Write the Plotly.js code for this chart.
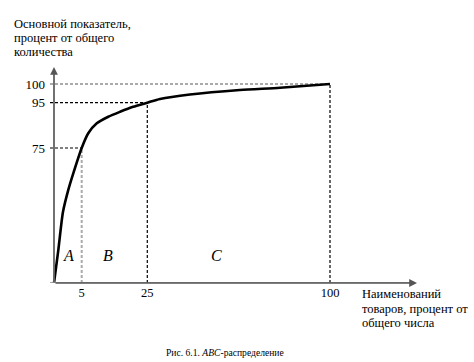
<!DOCTYPE html>
<html><head><meta charset="utf-8">
<script src="https://cdn.plot.ly/plotly-3.0.1.min.js"></script>
<style>html,body{margin:0;padding:0;background:#fff}#c{width:474px;height:362px}</style>
</head><body><div id="c"></div>
<script>
const shareItems = [0, 0.78, 1.62, 2.58, 3.48, 5, 7.0, 9.6, 13.1, 16.7, 20.7, 25, 30.2, 42.5, 63, 79.5, 100];
const shareValue = [0, 18.3, 39.4, 51.7, 60.9, 75, 81.5, 85.9, 88.8, 91.0, 93.2, 95, 96.0, 97.2, 98.4, 99.0, 100];
const xTickValues = [5, 25, 100];
const yTickValues = [75, 95, 100];
const xTickLabels = ['5', '25', '100'];
const yTickLabels = ['75', '95', '100'];
const groupLabels = ['A', 'B', 'C'];
const yTitleLines = ['Основной показатель,', 'процент от общего', 'количества'];
const xTitleLines = ['Наименований', 'товаров, процент от', 'общего числа'];
const captionText = 'Рис. 6.1. <i>ABC</i>-распределение';

// Schematic (non-uniform) axis scale: knots of real value -> display position
const xKnotsReal = [0, 5, 25, 100], xKnotsPos = [0, 27.7, 93.3, 276];
const yKnotsReal = [0, 75, 95, 100], yKnotsPos = [0, 135, 180.3, 199];
function warp(v, kr, kp) {
  for (let i = 1; i < kr.length; i++) {
    if (v <= kr[i]) return kp[i-1] + (v - kr[i-1]) / (kr[i] - kr[i-1]) * (kp[i] - kp[i-1]);
  }
  return kp[kp.length-1];
}
const wx = v => warp(v, xKnotsReal, xKnotsPos);
const wy = v => warp(v, yKnotsReal, yKnotsPos);

const FONT = 'Liberation Serif, Times New Roman, serif';
const xMax = 363, yMax = 216;
const L = 50, T = 67, W = 367, H = yMax;
const px = p => (p - L) / W;          // figure pixel -> paper x
const py = p => (T + H - p) / H;      // figure pixel -> paper y

const trace = {
  x: shareItems.map(wx), y: shareValue.map(wy),
  mode: 'lines', line: {color: '#000', width: 2.6, shape: 'spline', smoothing: 0.7},
  hoverinfo: 'skip', cliponaxis: false
};

function dash(x0, y0, x1, y1, color) {
  return {type: 'line', xref: 'x', yref: 'y', x0, y0, x1, y1, layer: 'below',
    line: {color, width: color === '#000' ? 1.2 : 2, dash: '3px,2px'}};
}
const shapes = [
  dash(-4, wy(100), wx(100), wy(100), '#aaa'),
  dash(-4, wy(95), wx(25), wy(95), '#000'),
  dash(-4, wy(75), wx(5), wy(75), '#000'),
  dash(wx(5), 0, wx(5), wy(75), '#aaa'),
  dash(wx(25), 0, wx(25), wy(95), '#000'),
  dash(wx(100), 0, wx(100), wy(100), '#000'),
  {type: 'line', xref: 'x', yref: 'y', x0: -4, y0: 0, x1: xMax - 4, y1: 0, line: {color: '#888', width: 1.5}},
  {type: 'line', xref: 'x', yref: 'y', x0: 0, y0: 0, x1: 0, y1: yMax - 4, line: {color: '#888', width: 1.5}}
];

const annotations = [
  {x: xMax, y: 0, ax: 0, ay: 0, axref: 'x', ayref: 'y', xref: 'x', yref: 'y', text: '', showarrow: true,
   arrowhead: 2, arrowsize: 1.2, arrowwidth: 1.3, arrowcolor: '#555', standoff: 0},
  {x: 0, y: yMax, ax: 0, ay: 0, axref: 'x', ayref: 'y', xref: 'x', yref: 'y', text: '', showarrow: true,
   arrowhead: 2, arrowsize: 1.2, arrowwidth: 1.3, arrowcolor: '#555', standoff: 0},
  {xref: 'paper', yref: 'paper', x: px(225), y: py(352), xanchor: 'center', yanchor: 'middle',
   showarrow: false, text: captionText, font: {family: FONT, size: 9.6, color: '#000'}}
];
yTitleLines.forEach((t, i) => annotations.push({xref: 'paper', yref: 'paper', x: px(12), y: py(24 + 14 * i),
  xanchor: 'left', yanchor: 'middle', showarrow: false, text: t, font: {family: FONT, size: 12.5, color: '#000'}}));
xTitleLines.forEach((t, i) => annotations.push({xref: 'paper', yref: 'paper', x: px(360), y: py(294 + 14.5 * i),
  xanchor: 'left', yanchor: 'middle', showarrow: false, text: t, font: {family: FONT, size: 12.5, color: '#000'}}));
const groupPos = [68, 108, 216];
groupLabels.forEach((g, i) => annotations.push({xref: 'paper', yref: 'paper', x: px(groupPos[i]), y: py(255),
  xanchor: 'center', yanchor: 'middle',
  showarrow: false, text: '<i>' + g + '</i>', font: {family: FONT, size: 16, color: '#000'}}));

const layout = {
  width: 474, height: 362,
  margin: {l: L, r: 474 - L - W, t: T, b: 362 - T - H},
  paper_bgcolor: '#fff', plot_bgcolor: '#fff',
  showlegend: false,
  xaxis: {range: [-4, xMax], showgrid: false, zeroline: false, showline: false,
    tickvals: xTickValues.map(wx), ticktext: xTickLabels, ticks: '', ticklen: 0,
    tickfont: {family: FONT, size: 12.5, color: '#000'}, fixedrange: true},
  yaxis: {range: [0, yMax], showgrid: false, zeroline: false, showline: false,
    tickvals: yTickValues.map(wy), ticktext: yTickLabels, ticks: '', ticklen: 0, ticklabelstandoff: 4,
    tickfont: {family: FONT, size: 13, color: '#000'}, fixedrange: true},
  shapes,
  annotations
};
Plotly.newPlot('c', [trace], layout, {displayModeBar: false, staticPlot: true});
</script></body></html>
